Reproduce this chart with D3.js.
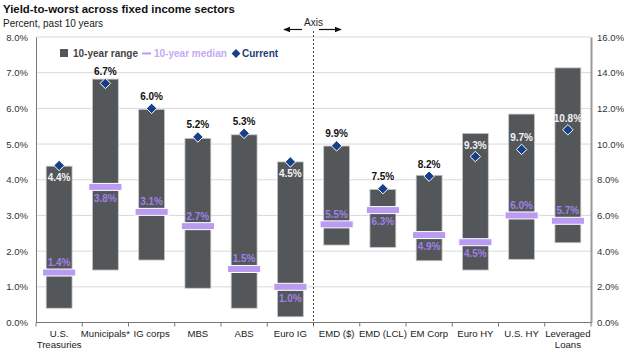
<!DOCTYPE html>
<html><head><meta charset="utf-8">
<script src="https://cdn.jsdelivr.net/npm/d3@7/dist/d3.min.js"></script>
<style>body{margin:0;background:#fff}svg{display:block;font-family:"Liberation Sans",Arial,sans-serif}</style>
</head><body><svg id="c" width="624" height="352"></svg>
<script>
const categories = ["U.S.\nTreasuries","Municipals*","IG corps","MBS","ABS","Euro IG","EMD ($)","EMD (LCL)","EM Corp","Euro HY","U.S. HY","Leveraged\nLoans"];
const axisSide   = ["L","L","L","L","L","L","R","R","R","R","R","R"];
const rangeLow   = [0.4, 1.47, 1.75, 0.96, 0.4, 0.16, 4.34, 4.21, 3.46, 2.94, 3.54, 4.47];
const rangeHigh  = [4.38, 6.82, 5.97, 5.16, 5.26, 4.5, 9.89, 7.46, 8.25, 10.6, 11.68, 14.27];
const median     = [1.4, 3.8, 3.1, 2.7, 1.5, 1.0, 5.5, 6.3, 4.9, 4.5, 6.0, 5.7];
const current    = [4.4, 6.7, 6.0, 5.2, 5.3, 4.5, 9.9, 7.5, 8.2, 9.3, 9.7, 10.8];
const leftTicks  = [0,1,2,3,4,5,6,7,8];
const rightTicks = [0,2,4,6,8,10,12,14,16];

// label placement config (layout)
const curLabelMode = ["in-below","above","above","above","above","in-below","above","above","above","in-above","in-above","in-above"];
const medLabelMode = ["above","below","above","above","above","below","above","below","below","below","above","above"];

const svg = d3.select("#c");
const X0 = 36, X1 = 591, Y0 = 322.5, Y1 = 37;
const x = d3.scaleBand().domain(categories).range([X0, X1]).paddingInner(0.44).paddingOuter(0.22);
const yL = d3.scaleLinear().domain([0,8]).range([Y0, Y1]);
const yR = d3.scaleLinear().domain([0,16]).range([Y0, Y1]);
const yOf = i => axisSide[i] === "L" ? yL : yR;

const BAR = "#54575a", MED = "#b99bf2", MEDTXT = "#9f80e6", CUR = "#173f8a";

// title
svg.append("text").attr("x",3).attr("y",13).attr("font-size",11.4).attr("font-weight","bold").attr("fill","#111").text("Yield-to-worst across fixed income sectors");
svg.append("text").attr("x",3).attr("y",27).attr("font-size",10).attr("fill","#222").text("Percent, past 10 years");

// gridlines
svg.append("g").selectAll("line").data(leftTicks.filter(d=>d>0)).join("line")
  .attr("x1",X0).attr("x2",X1).attr("y1",d=>yL(d)).attr("y2",d=>yL(d))
  .attr("stroke","#d9d9d9").attr("stroke-width",1);

// left axis
const gl = svg.append("g").attr("transform",`translate(${X0},0)`)
  .call(d3.axisLeft(yL).tickValues(leftTicks).tickFormat(d=>d.toFixed(1)+"%").tickSize(0).tickPadding(8));
gl.select(".domain").attr("stroke","#777");
gl.selectAll("text").attr("font-size",9.6).attr("fill","#333").attr("font-family","Liberation Sans, Arial, sans-serif");

// right axis
const gr = svg.append("g").attr("transform",`translate(${X1},0)`)
  .call(d3.axisRight(yR).tickValues(rightTicks).tickFormat(d=>d.toFixed(1)+"%").tickSize(0).tickPadding(6));
gr.select(".domain").attr("stroke","#9a9a9a").attr("stroke-width",2);
gr.selectAll("text").attr("font-size",9.6).attr("fill","#333").attr("font-family","Liberation Sans, Arial, sans-serif");

// bottom axis line + band boundary ticks
svg.append("line").attr("x1",X0).attr("x2",X1).attr("y1",Y0).attr("y2",Y0).attr("stroke","#777");
const bounds = d3.range(categories.length+1).map(i => X0 + i*x.step());
svg.append("g").selectAll("line").data(bounds).join("line")
  .attr("x1",d=>d).attr("x2",d=>d).attr("y1",Y0).attr("y2",Y0+4).attr("stroke","#777");

// category labels
const cl = svg.append("g").selectAll("text").data(categories).join("text")
  .attr("x",d=>x(d)+x.bandwidth()/2).attr("y",337).attr("text-anchor","middle")
  .attr("font-size",9.6).attr("fill","#222");
cl.each(function(d){
  const parts = d.split("\n");
  d3.select(this).selectAll("tspan").data(parts).join("tspan")
    .attr("x",x(d)+x.bandwidth()/2).attr("dy",(p,i)=>i?11:0).text(p=>p);
});

// dotted separator
const sepX = X0 + 6*x.step();
svg.append("line").attr("x1",sepX).attr("x2",sepX).attr("y1",31).attr("y2",327)
  .attr("stroke","#444").attr("stroke-dasharray","2,2");

// Axis arrows
const defs = svg.append("defs");
defs.append("marker").attr("id","ah").attr("viewBox","0 0 10 10").attr("refX",9).attr("refY",5)
  .attr("markerWidth",6).attr("markerHeight",6).attr("orient","auto-start-reverse")
  .append("path").attr("d","M0,1L10,5L0,9z").attr("fill","#111");
svg.append("line").attr("x1",302).attr("x2",284).attr("y1",29.5).attr("y2",29.5).attr("stroke","#111").attr("stroke-width",1.2).attr("marker-end","url(#ah)");
svg.append("line").attr("x1",319).attr("x2",341).attr("y1",29.5).attr("y2",29.5).attr("stroke","#111").attr("stroke-width",1.2).attr("marker-end","url(#ah)");
svg.append("text").attr("x",313.5).attr("y",26).attr("text-anchor","middle").attr("font-size",10).attr("fill","#222").text("Axis");

// range bars
svg.append("g").selectAll("rect").data(categories).join("rect")
  .attr("x",d=>x(d)).attr("width",x.bandwidth())
  .attr("y",(d,i)=>yOf(i)(rangeHigh[i]))
  .attr("height",(d,i)=>yOf(i)(rangeLow[i]) - yOf(i)(rangeHigh[i]))
  .attr("fill",BAR).attr("stroke","#c8c8c8").attr("stroke-width",0.8);

// median bars
const mw = x.bandwidth()*1.28, mh = 7;
svg.append("g").selectAll("rect").data(categories).join("rect")
  .attr("x",d=>x(d)+x.bandwidth()/2-mw/2).attr("width",mw)
  .attr("y",(d,i)=>yOf(i)(median[i])-mh/2).attr("height",mh)
  .attr("fill",MED).attr("stroke","#fff").attr("stroke-width",1);

// median labels
svg.append("g").selectAll("text").data(categories).join("text")
  .attr("x",d=>x(d)+x.bandwidth()/2)
  .attr("y",(d,i)=>yOf(i)(median[i]) + (medLabelMode[i]==="above" ? -6.5 : 15))
  .attr("text-anchor","middle").attr("font-size",10).attr("font-weight","bold")
  .attr("fill",MEDTXT).text((d,i)=>median[i].toFixed(1)+"%");

// current diamonds
const sym = d3.symbol().type(d3.symbolDiamond2).size(70);
svg.append("g").selectAll("path").data(categories).join("path")
  .attr("transform",(d,i)=>`translate(${x(d)+x.bandwidth()/2},${yOf(i)(current[i])})`)
  .attr("d",sym).attr("fill",CUR).attr("stroke","#fff").attr("stroke-width",1);

// current labels
svg.append("g").selectAll("text").data(categories).join("text")
  .attr("x",d=>x(d)+x.bandwidth()/2)
  .attr("y",(d,i)=>{const yy=yOf(i)(current[i]); const m=curLabelMode[i];
     return m==="above"? yy-8.5 : m==="in-below"? yy+15.5 : yy-8;})
  .attr("text-anchor","middle").attr("font-size",10).attr("font-weight","bold")
  .attr("fill",(d,i)=>curLabelMode[i]==="above"?"#111":"#f2f2f2")
  .text((d,i)=>current[i].toFixed(1)+"%");

// legend
const lg = svg.append("g");
lg.append("rect").attr("x",60).attr("y",49).attr("width",8).attr("height",8).attr("fill",BAR);
lg.append("text").attr("x",73).attr("y",57).attr("font-size",10).attr("font-weight","bold").attr("fill","#444").text("10-year range");
lg.append("line").attr("x1",142).attr("x2",151).attr("y1",53.5).attr("y2",53.5).attr("stroke",MED).attr("stroke-width",2);
lg.append("text").attr("x",154).attr("y",57).attr("font-size",10).attr("font-weight","bold").attr("fill","#c3aaf2").text("10-year median");
lg.append("path").attr("transform","translate(236,53.5)").attr("d",d3.symbol().type(d3.symbolDiamond2).size(50)).attr("fill",CUR);
lg.append("text").attr("x",242).attr("y",57).attr("font-size",10).attr("font-weight","bold").attr("fill","#1f3a78").text("Current");
</script></body></html>
